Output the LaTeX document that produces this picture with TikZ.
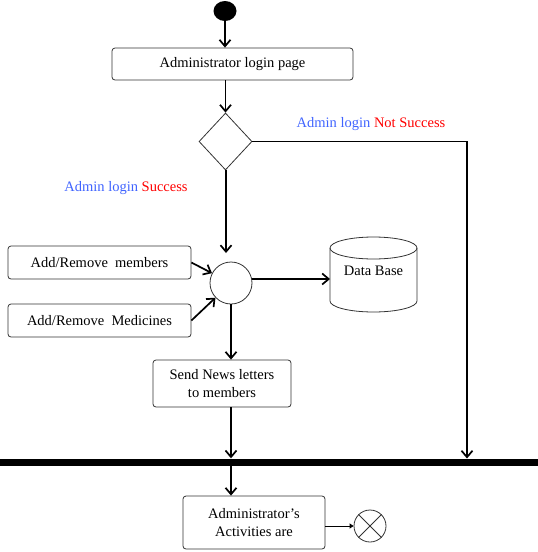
\documentclass[tikz,border=0pt]{standalone}
\usepackage{fontspec}
\setmainfont{Liberation Serif}
\usetikzlibrary{arrows.meta,shapes.geometric}
\definecolor{lblue}{RGB}{64,100,255}
\definecolor{lred}{RGB}{255,0,0}
\begin{document}
\begin{tikzpicture}[x=1pt,y=-1pt,
  every node/.style={font=\fontsize{14.5}{18}\selectfont},
  act/.style={draw=black!80, line width=0.8pt, rounded corners=3pt, align=center, inner sep=0pt},
  shp/.style={draw=black!80, line width=0.8pt, inner sep=0pt},
  conn/.style={line width=1.7pt, -{Straight Barb[length=6.5pt,width=11pt]}},
  ]
\useasboundingbox (0,0) rectangle (538,552);
% nodes
\node[fill=black, ellipse, minimum width=23pt, minimum height=20pt, inner sep=0pt] (start) at (225,11) {};
\node[act, minimum width=241pt, minimum height=32pt] (login) at (232.5,64) {Administrator login page};
\node[shp, diamond, minimum width=53pt, minimum height=57pt] (dec) at (225.5,141.5) {};
\node[shp, circle, minimum size=42pt] (merge) at (231,283) {};
\node[act, minimum width=183pt, minimum height=33pt] (addm) at (99.5,262.5) {Add/Remove\ \ members};
\node[act, minimum width=183pt, minimum height=33pt] (addmed) at (99.5,320.5) {Add/Remove\ \ Medicines};
\node (db) at (373.5,271) {Data Base};
\draw[draw=black!80, line width=0.8pt] (330,248) -- (330,301) arc[start angle=180, end angle=0, x radius=43.5, y radius=11] -- (417,248);
\draw[draw=black!80, line width=0.8pt] (373.5,248) ellipse[x radius=43.5, y radius=11];
\coordinate (dbw) at (330,279);
\node[act, minimum width=138pt, minimum height=47pt] (news) at (222,383.5) {Send News letters\\to members};
\node[fill=black, minimum width=538pt, minimum height=7pt, inner sep=0pt] (bar) at (269,462) {};
\node[act, minimum width=142pt, minimum height=53pt] (acts) at (254,522.5) {Administrator’s\\Activities are};
\node[shp, circle, minimum size=32pt] (end) at (370,526) {};
\draw[draw=black!80, line width=0.8pt] (end.north west) -- (end.south east) (end.north east) -- (end.south west);
% labels
\node (okl) at (126,188) {\textcolor{lblue}{Admin login} \textcolor{lred}{Success}};
\node (nol) at (371,124) {\textcolor{lblue}{Admin login} \textcolor{lred}{Not Success}};
% connectors
\coordinate (mtop) at (226,253);
\coordinate (nsend) at (467,458.5);
\draw[conn] (start.south) -- (start.south |- login.north);
\draw[conn] (login.south -| dec) -- (dec.north);
\draw[conn] (dec.east) -| (nsend);
\draw[conn] (dec.south -| mtop) -- (mtop);
\draw[conn] (addm.east) -- (merge);
\draw[conn] (addmed.east) -- (merge);
\draw[conn] (merge.11) -- (dbw);
\draw[conn] (merge.south) -- (merge.south |- news.north);
\draw[conn] (news.south -| merge) -- (bar.north -| merge);
\draw[conn] (bar.south -| merge) -- (acts.north -| merge);
\draw[line width=0.8pt, -{Triangle[length=4pt,width=5pt]}] (acts.east |- end) -- (end.west);
\end{tikzpicture}
\end{document}
